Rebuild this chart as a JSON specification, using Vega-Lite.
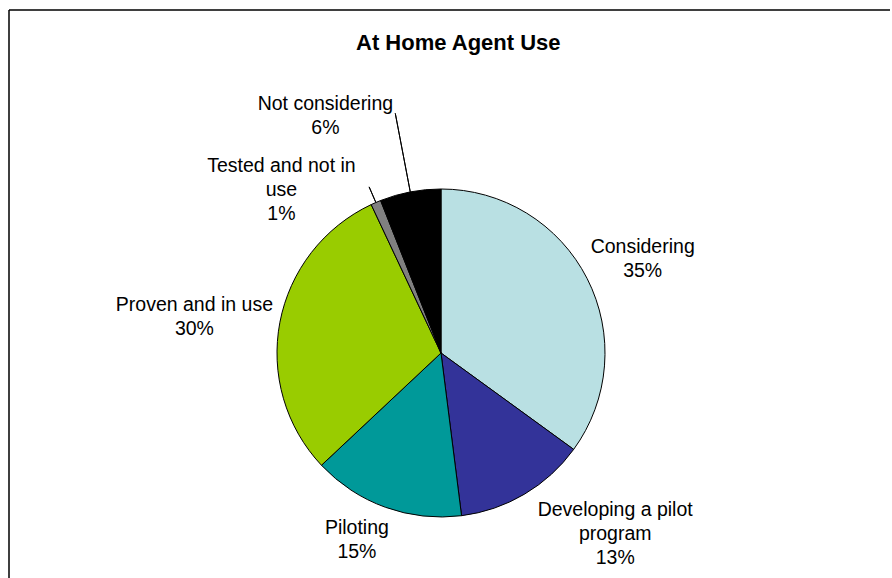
{
  "$schema": "https://vega.github.io/schema/vega-lite/v6.json",
  "width": 883,
  "height": 568,
  "autosize": {"type": "none"},
  "padding": {"left": 9, "top": 10, "right": 0, "bottom": 0},
  "background": "white",
  "view": {"stroke": "black", "strokeWidth": 1.5, "fill": "white", "strokeDash": [881, 1453, 568, 0]},
  "config": {
    "font": "Liberation Sans"
  },
  "title": {
    "text": "At Home Agent Use",
    "font": "Liberation Sans",
    "fontSize": 22,
    "fontWeight": "bold",
    "color": "black",
    "anchor": "start",
    "frame": "group",
    "baseline": "alphabetic",
    "offset": -62,
    "dx": 347
  },
  "data": {
    "values": [
      {"category": "Considering", "label": "Considering\n35%", "pct": 35},
      {"category": "Developing a pilot program", "label": "Developing a pilot\nprogram\n13%", "pct": 13},
      {"category": "Piloting", "label": "Piloting\n15%", "pct": 15},
      {"category": "Proven and in use", "label": "Proven and in use\n30%", "pct": 30},
      {"category": "Tested and not in use", "label": "Tested and not in\nuse\n1%", "pct": 1},
      {"category": "Not considering", "label": "Not considering\n6%", "pct": 6}
    ]
  },
  "transform": [{"stack": "pct", "groupby": [], "as": ["t0", "t1"]}],
  "layer": [
    {
      "mark": {"type": "arc", "radius": 164, "x": 432, "y": 343, "stroke": "black", "strokeWidth": 1},
      "encoding": {
        "theta": {"field": "t0", "type": "quantitative", "stack": null, "scale": {"domain": [0, 100]}},
        "theta2": {"field": "t1"},
        "color": {
          "field": "category",
          "type": "nominal",
          "scale": {
            "domain": ["Considering", "Developing a pilot program", "Piloting", "Proven and in use", "Tested and not in use", "Not considering"],
            "range": ["#B9E0E3", "#333399", "#009999", "#99CC00", "#808080", "#000000"]
          },
          "legend": null
        }
      }
    },
    {
      "transform": [{"filter": "datum.category === 'Not considering'"}],
      "mark": {"type": "arc", "radius": 244, "radius2": 164, "padAngle": 3, "x": 432, "y": 343, "filled": false, "stroke": "black", "strokeWidth": 1},
      "encoding": {
        "theta": {"field": "t0", "type": "quantitative", "stack": null, "scale": {"domain": [0, 100]}},
        "theta2": {"field": "t1"}
      }
    },
    {
      "transform": [{"filter": "datum.category === 'Tested and not in use'"}],
      "mark": {"type": "arc", "radius": 181, "radius2": 164, "padAngle": 3, "x": 432, "y": 343, "filled": false, "stroke": "black", "strokeWidth": 1},
      "encoding": {
        "theta": {"field": "t0", "type": "quantitative", "stack": null, "scale": {"domain": [0, 100]}},
        "theta2": {"field": "t1"}
      }
    },
    {
      "mark": {"type": "text", "radius": 223, "x": 432, "y": 343, "dx": 3, "dy": -5, "fontSize": 19.5, "lineBreak": "\n", "lineHeight": 24, "align": "center", "baseline": "middle", "color": "black"},
      "encoding": {
        "theta": {"field": "pct", "type": "quantitative", "stack": true, "scale": {"domain": [0, 100]}},
        "order": {"field": "t0"},
        "text": {"condition": {"test": "datum.category === 'Considering'", "field": "label"}, "value": ""}
      }
    },
    {
      "mark": {"type": "text", "radius": 244, "x": 432, "y": 343, "dx": 50, "dy": -53, "fontSize": 19.5, "lineBreak": "\n", "lineHeight": 24, "align": "center", "baseline": "middle", "color": "black"},
      "encoding": {
        "theta": {"field": "pct", "type": "quantitative", "stack": true, "scale": {"domain": [0, 100]}},
        "order": {"field": "t0"},
        "text": {"condition": {"test": "datum.category === 'Developing a pilot program'", "field": "label"}, "value": ""}
      }
    },
    {
      "mark": {"type": "text", "radius": 204, "x": 432, "y": 343, "dx": -15, "dy": -17, "fontSize": 19.5, "lineBreak": "\n", "lineHeight": 24, "align": "center", "baseline": "middle", "color": "black"},
      "encoding": {
        "theta": {"field": "pct", "type": "quantitative", "stack": true, "scale": {"domain": [0, 100]}},
        "order": {"field": "t0"},
        "text": {"condition": {"test": "datum.category === 'Piloting'", "field": "label"}, "value": ""}
      }
    },
    {
      "mark": {"type": "text", "radius": 249, "x": 432, "y": 343, "dx": -2, "dy": -1, "fontSize": 19.5, "lineBreak": "\n", "lineHeight": 24, "align": "center", "baseline": "middle", "color": "black"},
      "encoding": {
        "theta": {"field": "pct", "type": "quantitative", "stack": true, "scale": {"domain": [0, 100]}},
        "order": {"field": "t0"},
        "text": {"condition": {"test": "datum.category === 'Proven and in use'", "field": "label"}, "value": ""}
      }
    },
    {
      "mark": {"type": "text", "radius": 213, "x": 432, "y": 343, "dx": -75, "dy": 8, "fontSize": 19.5, "lineBreak": "\n", "lineHeight": 24, "align": "center", "baseline": "middle", "color": "black"},
      "encoding": {
        "theta": {"field": "pct", "type": "quantitative", "stack": true, "scale": {"domain": [0, 100]}},
        "order": {"field": "t0"},
        "text": {"condition": {"test": "datum.category === 'Tested and not in use'", "field": "label"}, "value": ""}
      }
    },
    {
      "mark": {"type": "text", "radius": 254, "x": 432, "y": 343, "dx": -68, "dy": 0.5, "fontSize": 19.5, "lineBreak": "\n", "lineHeight": 24, "align": "center", "baseline": "middle", "color": "black"},
      "encoding": {
        "theta": {"field": "pct", "type": "quantitative", "stack": true, "scale": {"domain": [0, 100]}},
        "order": {"field": "t0"},
        "text": {"condition": {"test": "datum.category === 'Not considering'", "field": "label"}, "value": ""}
      }
    }
  ]
}
